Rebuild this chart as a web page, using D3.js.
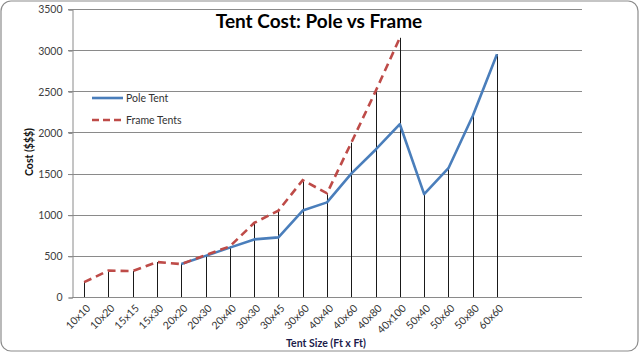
<!DOCTYPE html>
<html>
<head>
<meta charset="utf-8">
<script src="https://cdn.jsdelivr.net/npm/d3@7"></script>
<style>
  body { margin: 0; background: #fff; }
  svg text { font-family: Lato, "Open Sans", sans-serif; }
</style>
</head>
<body>
<div id="chart"></div>
<script>
var categories = ["10x10", "10x20", "15x15", "15x30", "20x20", "20x30", "20x40", "30x30", "30x45",
    "30x60", "40x40", "40x60", "40x80", "40x100", "50x40", "50x60", "50x80", "60x60"];
var poleTent = [null, null, null, null, 400, 500, 600, 700, 725, 1050, 1150, 1500, 1790, 2100, 1250, 1565, 2200, 2950];
var frameTents = [180, 320, 315, 425, 400, 510, 615, 900, 1050, 1420, 1260, 1875, 2500, 3150, null, null, null, null];
var yTicks = [0, 500, 1000, 1500, 2000, 2500, 3000, 3500];
var slotCount = 21; // axis leaves 3 empty slots after 60x60

var width = 640, height = 353;
var margin = {left: 72, right: 58, top: 9, bottom: 56};

var svg = d3.select("#chart").append("svg")
    .attr("width", width)
    .attr("height", height);

// rounded chart border
svg.append("rect")
    .attr("x", 1).attr("y", 1)
    .attr("width", width - 3).attr("height", height - 3)
    .attr("rx", 10).attr("ry", 10)
    .attr("fill", "#fff")
    .attr("stroke", "#8c8c8c")
    .attr("stroke-width", 1.2);

var x = d3.scaleBand()
    .domain(d3.range(slotCount))
    .range([margin.left, width - margin.right]);

var y = d3.scaleLinear()
    .domain([0, 3500])
    .range([height - margin.bottom, margin.top]);

function cx(i) { return x(i) + x.bandwidth() / 2; }

// gridlines
svg.append("g").selectAll("line")
    .data(yTicks.slice(1))
    .enter().append("line")
    .attr("x1", margin.left - 4)
    .attr("x2", width - margin.right)
    .attr("y1", function(d) { return Math.round(y(d)) + 0.5; })
    .attr("y2", function(d) { return Math.round(y(d)) + 0.5; })
    .attr("stroke", "#8a8a8a")
    .attr("stroke-width", 1);

// y axis
var yAxis = svg.append("g")
    .attr("transform", "translate(" + (margin.left + 0.5) + ",0.5)")
    .call(d3.axisLeft(y).tickValues(yTicks).tickSize(4).tickPadding(6).tickFormat(d3.format("d")));
yAxis.select(".domain").attr("stroke", "#8a8a8a");
yAxis.selectAll(".tick line").attr("stroke", "#8a8a8a");
yAxis.selectAll("text")
    .attr("fill", "#404040")
    .style("font-size", "10.5px");

// x baseline
svg.append("line")
    .attr("x1", margin.left)
    .attr("x2", width - margin.right)
    .attr("y1", Math.round(y(0)) + 0.5)
    .attr("y2", Math.round(y(0)) + 0.5)
    .attr("stroke", "#8a8a8a");

// drop lines from the higher value down to zero
var dropData = categories.map(function(c, i) {
    var vals = [poleTent[i], frameTents[i]].filter(function(v) { return v != null; });
    return {i: i, top: d3.max(vals)};
});
svg.append("g").selectAll("line")
    .data(dropData)
    .enter().append("line")
    .attr("x1", function(d) { return Math.round(cx(d.i)) + 0.5; })
    .attr("x2", function(d) { return Math.round(cx(d.i)) + 0.5; })
    .attr("y1", function(d) { return y(d.top); })
    .attr("y2", y(0))
    .attr("stroke", "#1a1a1a")
    .attr("stroke-width", 1);

// x labels
svg.append("g").selectAll("text")
    .data(categories)
    .enter().append("text")
    .attr("transform", function(d, i) {
        return "translate(" + (cx(i) + 7) + "," + (y(0) + 12) + ") rotate(-45)";
    })
    .attr("text-anchor", "end")
    .attr("fill", "#333")
    .style("font-size", "10.5px")
    .text(function(d) { return d; });

var line = d3.line()
    .defined(function(d) { return d != null; })
    .x(function(d, i) { return cx(i); })
    .y(function(d) { return y(d); });

svg.append("path")
    .datum(poleTent)
    .attr("d", line)
    .attr("fill", "none")
    .attr("stroke", "#4a7ebb")
    .attr("stroke-width", 2.6)
    .attr("stroke-linejoin", "round");

svg.append("path")
    .datum(frameTents)
    .attr("d", line)
    .attr("fill", "none")
    .attr("stroke", "#be4b48")
    .attr("stroke-width", 2.6)
    .attr("stroke-dasharray", "8,5");

// title
svg.append("text")
    .attr("x", 319)
    .attr("y", 28)
    .attr("text-anchor", "middle")
    .attr("fill", "#000")
    .style("font-size", "19px")
    .style("font-weight", "bold")
    .text("Tent Cost: Pole vs Frame");

// axis titles
svg.append("text")
    .attr("x", 326)
    .attr("y", 347)
    .attr("text-anchor", "middle")
    .attr("fill", "#1c1c4a")
    .style("font-size", "10.5px")
    .style("font-weight", "bold")
    .text("Tent Size (Ft x Ft)");

svg.append("text")
    .attr("transform", "translate(33,152) rotate(-90)")
    .attr("text-anchor", "middle")
    .attr("fill", "#111")
    .style("font-size", "10.5px")
    .style("font-weight", "bold")
    .text("Cost ($$$)");

// legend
var legendItems = [
    {name: "Pole Tent", color: "#4a7ebb", dash: null},
    {name: "Frame Tents", color: "#be4b48", dash: "7,4"}
];
var legend = svg.append("g").attr("transform", "translate(92,98)")
    .selectAll("g")
    .data(legendItems)
    .enter().append("g")
    .attr("transform", function(d, i) { return "translate(0," + i * 22 + ")"; });

legend.append("line")
    .attr("x1", 0).attr("x2", 31)
    .attr("stroke", function(d) { return d.color; })
    .attr("stroke-width", 2.6)
    .attr("stroke-dasharray", function(d) { return d.dash; });

legend.append("text")
    .attr("x", 34)
    .attr("y", 3.5)
    .attr("fill", "#333")
    .style("font-size", "10.5px")
    .text(function(d) { return d.name; });
</script>
</body>
</html>
